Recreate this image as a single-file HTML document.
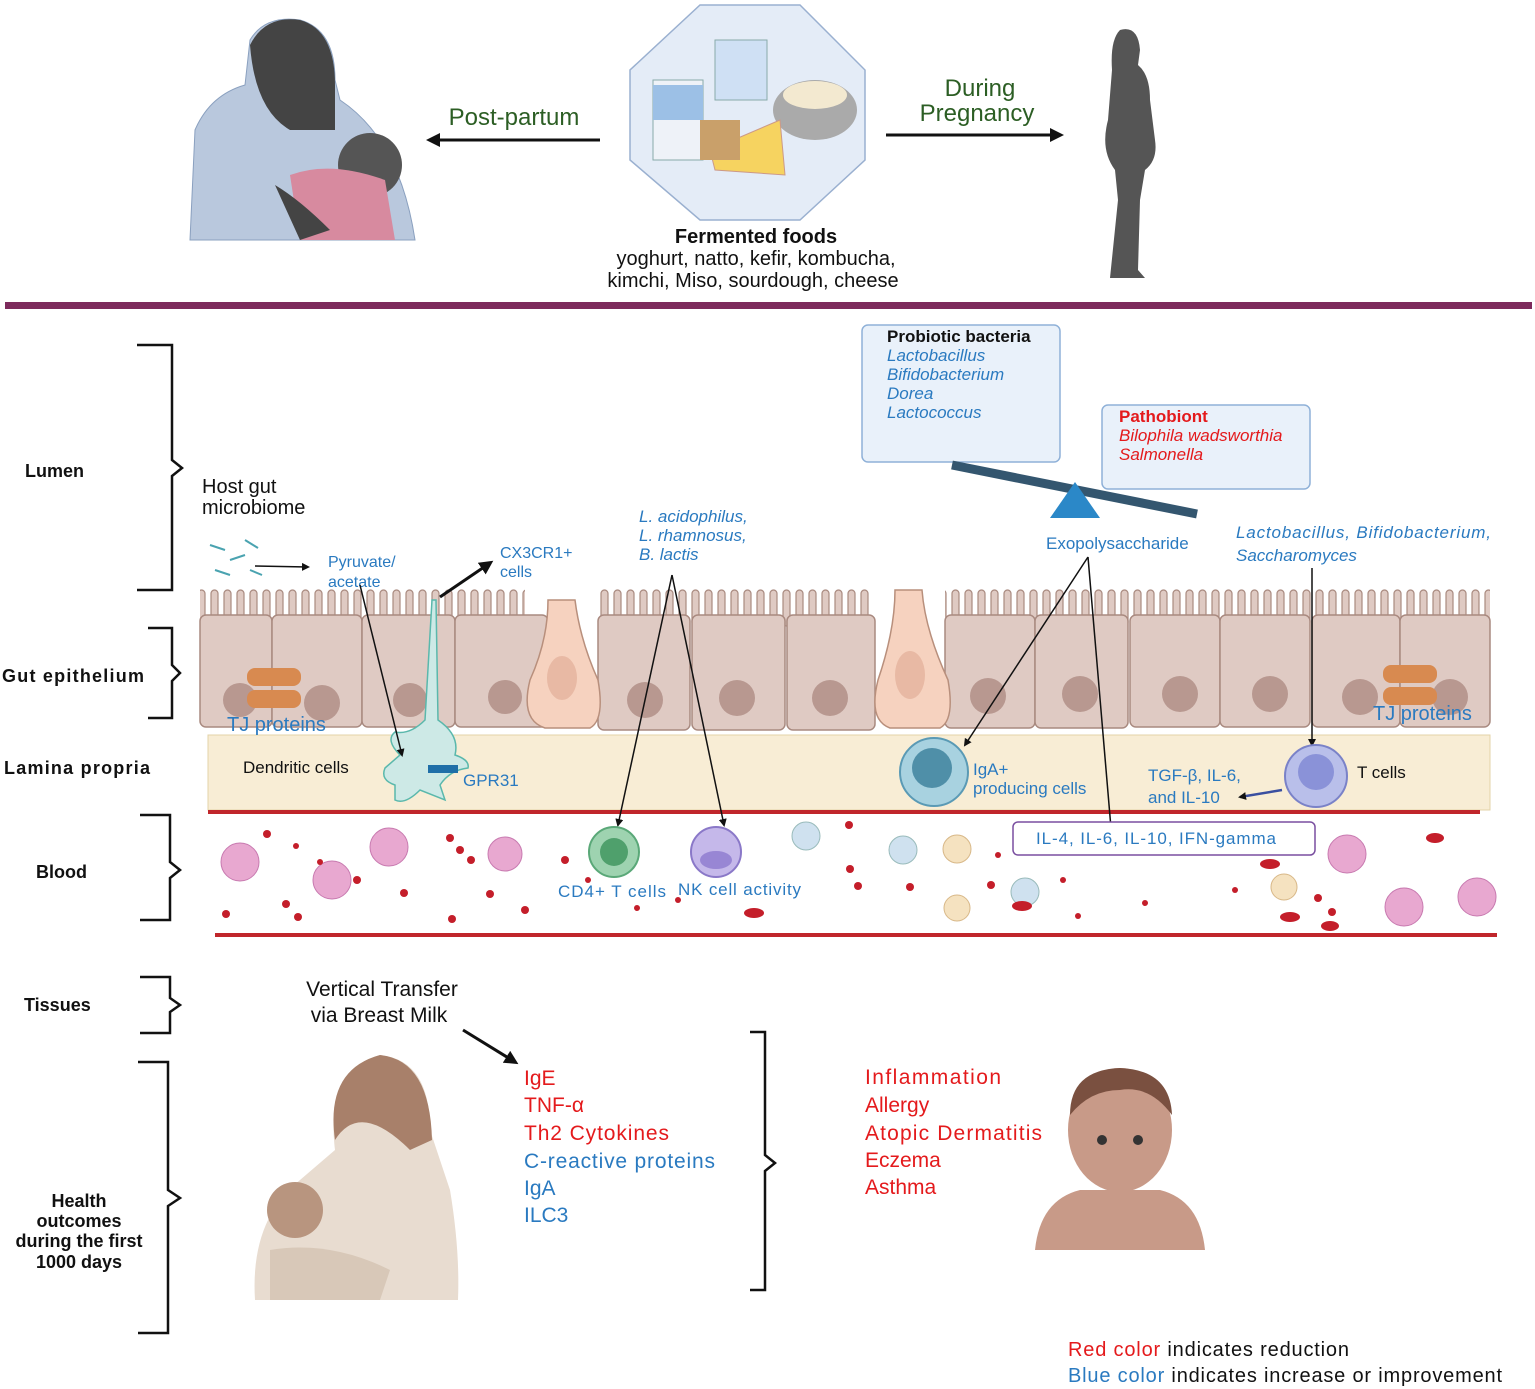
<!DOCTYPE html>
<html><head><meta charset="utf-8"><style>
body{margin:0;background:#fff}
svg{display:block;font-family:"Liberation Sans",sans-serif}
.b{fill:#2a7ac0}.r{fill:#e41a1c}.k{fill:#111}
</style></head><body>
<svg width="1535" height="1389" viewBox="0 0 1535 1389" xmlns="http://www.w3.org/2000/svg">
<defs>
<marker id="ah" markerWidth="8" markerHeight="8" refX="6" refY="4" orient="auto" markerUnits="userSpaceOnUse"><path d="M0,0 L8,4 L0,8 z" fill="#111"/></marker>
<marker id="ahb" markerWidth="14" markerHeight="14" refX="10" refY="7" orient="auto" markerUnits="userSpaceOnUse"><path d="M0,0 L14,7 L0,14 z" fill="#111"/></marker>
<pattern id="mv" x="0" y="588" width="13" height="40" patternUnits="userSpaceOnUse"><rect x="3" y="2" width="7" height="36" rx="3.5" fill="#dfcac3" stroke="#a98a80" stroke-width="1.2"/></pattern>
</defs>
<path d="M190,240 L195,130 Q210,95 245,85 L250,40 Q265,15 300,20 Q335,30 335,80 L340,100 Q400,140 415,240 Z" fill="#b9c8dd" stroke="#8aa0bf"/>
<path d="M250,45 Q265,15 300,20 Q335,30 335,85 L335,130 L290,130 Q255,110 250,45Z" fill="#444"/>
<circle cx="370" cy="165" r="32" fill="#555"/>
<path d="M290,175 Q330,160 385,180 L395,240 L300,240 Z" fill="#d78a9f"/>
<path d="M275,185 Q300,200 330,230 L300,240 Z" fill="#444"/>
<polygon points="700,5 800,5 865,70 865,160 800,220 700,220 630,160 630,70" fill="#e4ecf7" stroke="#9ab0d0" stroke-width="1.5"/>
<rect x="653" y="80" width="50" height="80" fill="#eef2f8" stroke="#8aa"/>
<rect x="653" y="85" width="50" height="35" fill="#9cc0e6"/>
<rect x="715" y="40" width="52" height="60" fill="#cfe0f4" stroke="#8aa"/>
<ellipse cx="815" cy="110" rx="42" ry="30" fill="#aaa"/>
<ellipse cx="815" cy="95" rx="32" ry="14" fill="#f3e9d0"/>
<polygon points="710,150 780,120 785,175 715,170" fill="#f6d360" stroke="#c98"/>
<rect x="700" y="120" width="40" height="40" fill="#c9a06a"/>
<text x="756" y="243" text-anchor="middle" font-size="20" font-weight="bold" class="k">Fermented foods</text>
<text x="756" y="265" text-anchor="middle" font-size="20" class="k">yoghurt, natto, kefir, kombucha,</text>
<text x="753" y="287" text-anchor="middle" font-size="20" class="k">kimchi, Miso, sourdough, cheese</text>
<text x="514" y="125" text-anchor="middle" font-size="24" fill="#2c5e24">Post-partum</text>
<line x1="600" y1="140" x2="430" y2="140" stroke="#111" stroke-width="3" marker-end="url(#ahb)"/>
<text x="980" y="96" text-anchor="middle" font-size="24" fill="#2c5e24">During</text>
<text x="977" y="121" text-anchor="middle" font-size="24" fill="#2c5e24">Pregnancy</text>
<line x1="886" y1="135" x2="1060" y2="135" stroke="#111" stroke-width="3" marker-end="url(#ahb)"/>
<path d="M1120,30 Q1138,25 1140,50 L1138,65 Q1150,75 1150,100 L1155,140 Q1158,160 1145,170 L1140,200 L1138,270 L1145,278 L1110,278 L1118,200 L1115,170 Q1100,150 1108,120 L1112,70 Q1110,40 1120,30Z" fill="#555"/>
<rect x="5" y="302" width="1527" height="7" fill="#7d2a5c"/>
<g fill="none" stroke="#111" stroke-width="2.5">
<path d="M137,345 H172 V460 L182,468 L172,476 V590 H137"/>
<path d="M148,628 H172 V665 L180,673 L172,681 V718 H148"/>
<path d="M140,815 H170 V862 L180,870 L170,878 V920 H140"/>
<path d="M140,977 H170 V998 L180,1005 L170,1012 V1033 H140"/>
<path d="M138,1062 H168 V1190 L180,1198 L168,1206 V1333 H138"/>
<path d="M750,1032 H765 V1155 L775,1163 L765,1171 V1290 H750"/>
</g>
<g font-size="18" font-weight="bold" class="k">
<text x="25" y="477">Lumen</text>
<text x="2" y="682" textLength="142">Gut epithelium</text>
<text x="4" y="774" textLength="146">Lamina propria</text>
<text x="36" y="878">Blood</text>
<text x="24" y="1011">Tissues</text>
<text x="79" y="1207" text-anchor="middle">Health</text>
<text x="79" y="1227" text-anchor="middle">outcomes</text>
<text x="79" y="1247" text-anchor="middle">during the first</text>
<text x="79" y="1268" text-anchor="middle">1000 days</text>
</g>
<rect x="208" y="735" width="1282" height="75" fill="#f8edd5" stroke="#e3d3a8"/>
<rect x="208" y="810" width="1272" height="4" fill="#c0262b"/>
<rect x="215" y="933" width="1282" height="4" fill="#c0262b"/>
<rect x="200" y="588" width="325" height="40" fill="url(#mv)"/>
<rect x="600" y="588" width="270" height="40" fill="url(#mv)"/>
<rect x="945" y="588" width="545" height="40" fill="url(#mv)"/>
<g fill="#dfcac3" stroke="#a98a80" stroke-width="1.5">
<rect x="200" y="615" width="72" height="112" rx="6"/>
<rect x="272" y="615" width="90" height="112" rx="6"/>
<rect x="362" y="615" width="93" height="112" rx="6"/>
<rect x="455" y="615" width="93" height="112" rx="6"/>
<rect x="598" y="615" width="92" height="115" rx="6"/>
<rect x="692" y="615" width="93" height="115" rx="6"/>
<rect x="787" y="615" width="88" height="115" rx="6"/>
<rect x="945" y="615" width="90" height="113" rx="6"/>
<rect x="1035" y="615" width="93" height="113" rx="6"/>
<rect x="1130" y="615" width="90" height="112" rx="6"/>
<rect x="1220" y="615" width="90" height="112" rx="6"/>
<rect x="1312" y="615" width="88" height="112" rx="6"/>
<rect x="1400" y="615" width="90" height="112" rx="6"/>
</g>
<g fill="#b89890">
<circle cx="240" cy="700" r="17"/><circle cx="322" cy="703" r="18"/><circle cx="410" cy="700" r="17"/><circle cx="505" cy="697" r="17"/><circle cx="645" cy="700" r="18"/><circle cx="737" cy="698" r="18"/><circle cx="830" cy="698" r="18"/><circle cx="988" cy="696" r="18"/><circle cx="1080" cy="694" r="18"/><circle cx="1180" cy="694" r="18"/><circle cx="1270" cy="694" r="18"/><circle cx="1360" cy="697" r="18"/><circle cx="1450" cy="697" r="18"/>
</g>
<g fill="#f6d2bf" stroke="#b88f7c" stroke-width="1.5">
<path d="M548,600 Q548,640 530,680 Q520,720 545,728 L590,728 Q605,720 598,680 Q580,640 575,600Z"/>
<path d="M895,590 Q895,630 878,680 Q868,720 890,728 L940,728 Q955,720 948,680 Q925,630 922,590Z"/>
</g>
<ellipse cx="562" cy="678" rx="15" ry="22" fill="#e8b9a4"/><ellipse cx="910" cy="675" rx="15" ry="24" fill="#e8b9a4"/>
<rect x="247" y="668" width="54" height="18" rx="8" fill="#d88a50"/><rect x="247" y="690" width="54" height="18" rx="8" fill="#d88a50"/>
<rect x="1383" y="665" width="54" height="18" rx="8" fill="#d88a50"/><rect x="1383" y="687" width="54" height="18" rx="8" fill="#d88a50"/>
<text x="227" y="731" font-size="20" class="b">TJ proteins</text>
<text x="1373" y="720" font-size="20" class="b">TJ proteins</text>
<path d="M432,600 L436,600 L438,720 Q460,735 455,755 Q470,760 468,768 Q450,770 440,785 L445,800 L420,790 Q405,805 395,800 L395,785 Q380,780 385,768 L400,755 Q385,740 395,732 Q410,735 425,720 Z" fill="#cde9e6" stroke="#5ab8ac" stroke-width="1.5"/>
<rect x="428" y="765" width="30" height="8" fill="#1f6fa8"/>
<text x="463" y="786" font-size="17" class="b">GPR31</text>
<text x="243" y="773" font-size="17" class="k">Dendritic cells</text>
<text x="202" y="493" font-size="20" class="k">Host gut</text>
<text x="202" y="514" font-size="20" class="k">microbiome</text>
<g stroke="#4aa3b0" stroke-width="2"><line x1="210" y1="545" x2="225" y2="550"/><line x1="230" y1="560" x2="245" y2="555"/><line x1="215" y1="570" x2="230" y2="575"/><line x1="245" y1="540" x2="258" y2="548"/><line x1="250" y1="570" x2="262" y2="575"/></g>
<line x1="255" y1="566" x2="308" y2="567" stroke="#111" stroke-width="1.5" marker-end="url(#ah)"/>
<text x="328" y="567" font-size="16" class="b">Pyruvate/</text>
<text x="328" y="587" font-size="16" class="b">acetate</text>
<text x="500" y="558" font-size="16" class="b">CX3CR1+</text>
<text x="500" y="577" font-size="16" class="b">cells</text>
<line x1="440" y1="597" x2="490" y2="563" stroke="#111" stroke-width="3" marker-end="url(#ahb)"/>
<line x1="360" y1="585" x2="402" y2="755" stroke="#111" stroke-width="1.5" marker-end="url(#ah)"/>
<g font-size="17" font-style="italic" class="b">
<text x="639" y="522">L. acidophilus,</text><text x="639" y="541">L. rhamnosus,</text><text x="639" y="560">B. lactis</text>
<text x="1236" y="538" textLength="255">Lactobacillus, Bifidobacterium,</text><text x="1236" y="561">Saccharomyces</text>
</g>
<line x1="672" y1="575" x2="618" y2="825" stroke="#111" stroke-width="1.5" marker-end="url(#ah)"/>
<line x1="672" y1="575" x2="724" y2="825" stroke="#111" stroke-width="1.5" marker-end="url(#ah)"/>
<rect x="862" y="325" width="198" height="137" rx="6" fill="#e9f1fa" stroke="#8fb1d8" stroke-width="1.5"/>
<text x="887" y="342" font-size="17" font-weight="bold" class="k">Probiotic bacteria</text>
<g font-size="17" font-style="italic" class="b"><text x="887" y="361">Lactobacillus</text><text x="887" y="380">Bifidobacterium</text><text x="887" y="399">Dorea</text><text x="887" y="418">Lactococcus</text></g>
<rect x="1102" y="405" width="208" height="84" rx="6" fill="#e9f1fa" stroke="#8fb1d8" stroke-width="1.5"/>
<text x="1119" y="422" font-size="17" font-weight="bold" class="r">Pathobiont</text>
<g font-size="17" font-style="italic" class="r"><text x="1119" y="441">Bilophila wadsworthia</text><text x="1119" y="460">Salmonella</text></g>
<line x1="952" y1="465" x2="1197" y2="514" stroke="#34566f" stroke-width="9"/>
<polygon points="1075,482 1050,518 1100,518" fill="#2b88c8"/>
<text x="1046" y="549" font-size="17" class="b">Exopolysaccharide</text>
<line x1="1088" y1="557" x2="965" y2="745" stroke="#111" stroke-width="1.5" marker-end="url(#ah)"/>
<line x1="1088" y1="557" x2="1112" y2="840" stroke="#111" stroke-width="1.5" marker-end="url(#ah)"/>
<line x1="1312" y1="568" x2="1312" y2="745" stroke="#111" stroke-width="1.5" marker-end="url(#ah)"/>
<circle cx="934" cy="772" r="34" fill="#a8d2e0" stroke="#5a9ab5" stroke-width="2"/><circle cx="932" cy="768" r="20" fill="#4f8fa8"/>
<text x="973" y="775" font-size="17" class="b">IgA+</text><text x="973" y="794" font-size="17" class="b">producing cells</text>
<circle cx="1316" cy="776" r="31" fill="#b9bfea" stroke="#7a82c8" stroke-width="2"/><circle cx="1316" cy="772" r="18" fill="#8a92d8"/>
<text x="1357" y="778" font-size="17" class="k">T cells</text>
<text x="1148" y="781" font-size="17" class="b">TGF-β, IL-6,</text><text x="1148" y="803" font-size="17" class="b">and IL-10</text>
<line x1="1282" y1="790" x2="1240" y2="797" stroke="#3a4fa0" stroke-width="2.5" marker-end="url(#ah)"/>
<rect x="1013" y="822" width="302" height="33" rx="5" fill="#fff" stroke="#7a4fa0" stroke-width="1.5"/>
<text x="1036" y="844" font-size="17" class="b" textLength="240">IL-4, IL-6, IL-10, IFN-gamma</text>
<g fill="#e8a8d0" stroke="#c87ab0">
<circle cx="240" cy="862" r="19"/><circle cx="389" cy="847" r="19"/><circle cx="332" cy="880" r="19"/><circle cx="505" cy="854" r="17"/><circle cx="1347" cy="854" r="19"/><circle cx="1404" cy="907" r="19"/><circle cx="1477" cy="897" r="19"/>
</g>
<circle cx="614" cy="852" r="25" fill="#9ed3b0" stroke="#5aa878" stroke-width="2"/><circle cx="614" cy="852" r="14" fill="#4fa06c"/>
<circle cx="716" cy="852" r="25" fill="#c5b8ea" stroke="#8a78c8" stroke-width="2"/><ellipse cx="716" cy="860" rx="16" ry="9" fill="#9886d4"/>
<g fill="#cfe1ef" stroke="#9bb">
<circle cx="806" cy="836" r="14"/><circle cx="903" cy="850" r="14"/><circle cx="1025" cy="892" r="14"/></g>
<g fill="#f5e2c0" stroke="#d8b888"><circle cx="957" cy="849" r="14"/><circle cx="957" cy="908" r="13"/><circle cx="1284" cy="887" r="13"/></g>
<g fill="#c41e2a">
<circle cx="267" cy="834" r="4"/><circle cx="296" cy="846" r="3"/><circle cx="226" cy="914" r="4"/><circle cx="286" cy="904" r="4"/><circle cx="298" cy="917" r="4"/><circle cx="357" cy="880" r="4"/><circle cx="404" cy="893" r="4"/><circle cx="450" cy="838" r="4"/><circle cx="460" cy="850" r="4"/><circle cx="471" cy="860" r="4"/><circle cx="452" cy="919" r="4"/><circle cx="490" cy="894" r="4"/><circle cx="525" cy="910" r="4"/><circle cx="565" cy="860" r="4"/><circle cx="588" cy="880" r="3"/><circle cx="637" cy="908" r="3"/><circle cx="678" cy="900" r="3"/><circle cx="849" cy="825" r="4"/><circle cx="850" cy="869" r="4"/><circle cx="858" cy="886" r="4"/><circle cx="910" cy="887" r="4"/><circle cx="991" cy="885" r="4"/><circle cx="998" cy="855" r="3"/><circle cx="1063" cy="880" r="3"/><circle cx="1078" cy="916" r="3"/><circle cx="1145" cy="903" r="3"/><circle cx="1235" cy="890" r="3"/><circle cx="1318" cy="898" r="4"/><circle cx="1332" cy="912" r="4"/><circle cx="320" cy="862" r="3"/>
<ellipse cx="754" cy="913" rx="10" ry="5"/><ellipse cx="1022" cy="906" rx="10" ry="5"/><ellipse cx="1270" cy="864" rx="10" ry="5"/><ellipse cx="1290" cy="917" rx="10" ry="5"/><ellipse cx="1330" cy="926" rx="9" ry="5"/><ellipse cx="1435" cy="838" rx="9" ry="5"/>
</g>
<text x="558" y="897" font-size="17" class="b" textLength="108">CD4+ T cells</text>
<text x="678" y="895" font-size="17" class="b" textLength="123">NK cell activity</text>
<text x="382" y="996" text-anchor="middle" font-size="21" class="k">Vertical Transfer</text>
<text x="379" y="1022" text-anchor="middle" font-size="21" class="k">via Breast Milk</text>
<line x1="463" y1="1030" x2="515" y2="1062" stroke="#111" stroke-width="3" marker-end="url(#ahb)"/>
<g font-size="21">
<text x="524" y="1085" class="r">IgE</text><text x="524" y="1112" class="r">TNF-α</text><text x="524" y="1140" class="r" textLength="145">Th2 Cytokines</text>
<text x="524" y="1168" class="b" textLength="191">C-reactive proteins</text><text x="524" y="1195" class="b">IgA</text><text x="524" y="1222" class="b">ILC3</text>
<text x="865" y="1084" class="r" textLength="136">Inflammation</text><text x="865" y="1112" class="r">Allergy</text><text x="865" y="1140" class="r" textLength="177">Atopic Dermatitis</text><text x="865" y="1167" class="r">Eczema</text><text x="865" y="1194" class="r">Asthma</text>
</g>
<path d="M255,1300 Q250,1220 300,1180 L335,1150 Q325,1070 380,1055 Q430,1060 430,1130 L450,1190 Q460,1250 458,1300Z" fill="#e8dcd0"/>
<path d="M335,1140 Q325,1070 380,1055 Q430,1060 432,1140 L410,1150 Q360,1100 335,1140Z" fill="#a8806a"/>
<circle cx="295" cy="1210" r="28" fill="#b8957f"/>
<path d="M270,1250 Q330,1240 390,1270 L380,1300 L270,1300Z" fill="#d8c8b8"/>
<path d="M1035,1250 Q1040,1200 1080,1190 L1160,1190 Q1200,1200 1205,1250Z" fill="#c89a88"/>
<ellipse cx="1120" cy="1130" rx="52" ry="62" fill="#c89a88"/>
<path d="M1070,1115 Q1070,1070 1120,1068 Q1170,1070 1172,1115 Q1150,1085 1120,1090 Q1090,1090 1070,1115Z" fill="#7a5040"/>
<circle cx="1102" cy="1140" r="5" fill="#333"/><circle cx="1138" cy="1140" r="5" fill="#333"/>
<text x="1068" y="1356" font-size="20" class="r" textLength="281">Red color <tspan class="k">indicates reduction</tspan></text>
<text x="1068" y="1382" font-size="20" class="b" textLength="434">Blue color <tspan class="k">indicates increase or improvement</tspan></text>
</svg>
</body></html>
